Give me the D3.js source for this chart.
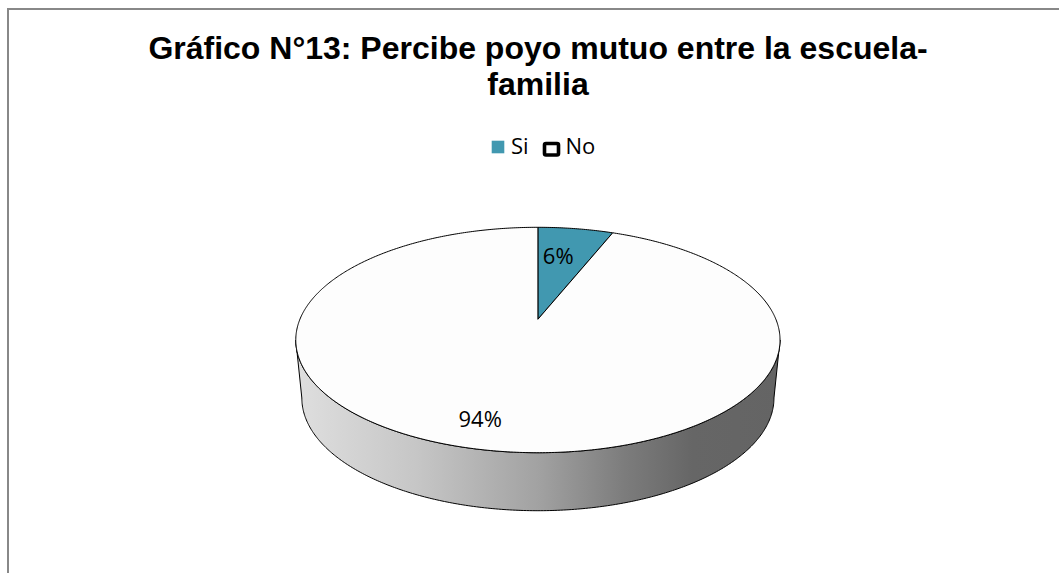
<!DOCTYPE html>
<html lang="es">
  <head>
    <meta charset="UTF-8" />
    <title>Gráfico N°13</title>
    <script src="https://d3js.org/d3.v7.min.js"></script>
    <style>
      body {
        margin: 0;
        background: white;
      }
      .title {
        font-family: "Liberation Sans", Arial, sans-serif;
        font-weight: bold;
        font-size: 32px;
      }
      .lbl {
        font-family: "Open Sans", "Noto Sans", sans-serif;
        font-size: 22px;
      }
    </style>
  </head>
  <body>
    <script>
      // data
      const categories = ["Si", "No"];
      const values = [6, 94];
      const labels = ["6%", "94%"];
      const colors = ["#4198b0", "#fdfdfd"];
      const titleLines = [
        "Gráfico N°13: Percibe poyo mutuo entre la escuela-",
        "familia",
      ];

      const width = 1059;
      const height = 573;

      const svg = d3
        .select("body")
        .append("svg")
        .attr("width", width)
        .attr("height", height);

      // chart frame (only left + top visible)
      svg
        .append("path")
        .attr("d", "M8," + height + "V9H" + width)
        .attr("fill", "none")
        .attr("stroke", "#888")
        .attr("stroke-width", 2);

      // title
      svg
        .selectAll(".title")
        .data(titleLines)
        .enter()
        .append("text")
        .attr("class", "title")
        .attr("x", 538)
        .attr("y", (d, i) => 59 + i * 36)
        .attr("text-anchor", "middle")
        .text((d) => d);

      // perspective pie geometry
      const cx = 537.9,
        cy = 319.3;
      const A = 238,
        B = 108.9,
        k = 0.1837;
      const depth = 58,
        shrink = 0.975;

      function proj(t, r, bottom) {
        const u = r * Math.sin(t),
          v = r * Math.cos(t);
        const w = 1 + k * v;
        let x = cx + (A * u) / w;
        let y = cy - (B * v) / w;
        if (bottom) {
          x = cx + (x - cx) * shrink;
          y += depth;
        }
        return [x, y];
      }

      function arcPts(a0, a1, bottom) {
        const pts = [];
        const n = Math.max(2, Math.ceil(Math.abs(a1 - a0) / 0.01));
        for (let i = 0; i <= n; i++) {
          pts.push(proj(a0 + ((a1 - a0) * i) / n, 1, bottom));
        }
        return pts;
      }

      const line = d3.line();
      const arcs = d3.pie().sort(null).value((d) => d)(values);

      const defs = svg.append("defs");
      const grad = defs
        .append("linearGradient")
        .attr("id", "side")
        .attr("gradientUnits", "userSpaceOnUse")
        .attr("x1", cx - 242)
        .attr("x2", cx + 242)
        .attr("y1", 0)
        .attr("y2", 0);
      [
        [0, "#dfdfdf"],
        [0.25, "#c6c6c6"],
        [0.5, "#a2a2a2"],
        [0.68, "#7c7c7c"],
        [0.82, "#666"],
        [1, "#646464"],
      ].forEach((s) =>
        grad.append("stop").attr("offset", s[0]).attr("stop-color", s[1])
      );

      // visible side of the cylinder
      const tR = Math.acos(-k),
        tL = 2 * Math.PI - tR;
      arcs.forEach((a) => {
        const a0 = Math.max(a.startAngle, tR),
          a1 = Math.min(a.endAngle, tL);
        if (a0 >= a1) return;
        const pts = arcPts(a0, a1, false).concat(arcPts(a1, a0, true));
        svg
          .append("path")
          .attr("d", line(pts) + "Z")
          .attr("fill", "url(#side)")
          .attr("stroke", "#000")
          .attr("stroke-width", 1)
          .attr("stroke-linejoin", "round");
      });

      // top faces
      svg
        .selectAll(".slice")
        .data(arcs)
        .enter()
        .append("path")
        .attr("class", "slice")
        .attr("d", (a) => {
          const pts = [[cx, cy]].concat(arcPts(a.startAngle, a.endAngle, false));
          return line(pts) + "Z";
        })
        .attr("fill", (d, i) => colors[i])
        .attr("stroke", "#000")
        .attr("stroke-width", 1)
        .attr("stroke-linejoin", "round");

      // data labels
      svg
        .selectAll(".plabel")
        .data(arcs)
        .enter()
        .append("text")
        .attr("class", "lbl")
        .attr("text-anchor", "middle")
        .attr("x", (a) => {
          const m = (a.startAngle + a.endAngle) / 2;
          const r = a.value < 10 ? 0.66 : 0.8;
          return proj(m, r, false)[0] - (a.value < 10 ? 6 : 16);
        })
        .attr("y", (a) => {
          const m = (a.startAngle + a.endAngle) / 2;
          const r = a.value < 10 ? 0.66 : 0.8;
          return proj(m, r, false)[1] + 8;
        })
        .text((d, i) => labels[i]);

      // legend
      const leg = svg.append("g");
      leg
        .append("rect")
        .attr("x", 491.7)
        .attr("y", 140.7)
        .attr("width", 12.6)
        .attr("height", 12.6)
        .attr("fill", colors[0]);
      leg
        .append("text")
        .attr("class", "lbl")
        .attr("x", 511)
        .attr("y", 153.5)
        .text(categories[0]);
      leg
        .append("rect")
        .attr("x", 544.5)
        .attr("y", 143.5)
        .attr("width", 14)
        .attr("height", 11.5)
        .attr("rx", 1.5)
        .attr("fill", colors[1])
        .attr("stroke", "#000")
        .attr("stroke-width", 3.6);
      leg
        .append("text")
        .attr("class", "lbl")
        .attr("x", 565.5)
        .attr("y", 153.5)
        .text(categories[1]);
    </script>
  </body>
</html>
